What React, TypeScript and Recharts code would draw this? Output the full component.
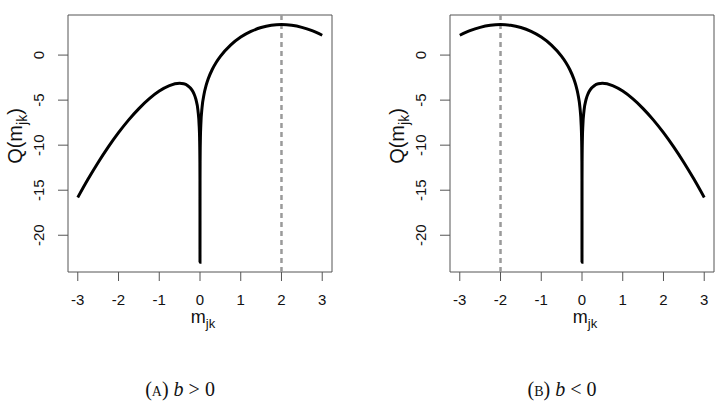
import React from "react";
import {
  LineChart,
  Line,
  XAxis,
  YAxis,
  ReferenceLine,
  ReferenceArea,
} from "recharts";

const mValues = [
  -3, -2.75, -2.5, -2.25, -2, -1.75, -1.5, -1.25, -1, -0.75, -0.5, -0.4, -0.3,
  -0.2, -0.15, -0.1, -0.05, -0.02, -0.01, -0.003, -0.001, 0, 0.001, 0.003, 0.01,
  0.02, 0.05, 0.1, 0.15, 0.2, 0.3, 0.4, 0.5, 0.75, 1, 1.25, 1.5, 1.75, 2, 2.25,
  2.5, 2.75, 3,
];

// panel (A), b > 0
const qPositiveB = [
  -15.8, -13.79, -11.92, -10.19, -8.61, -7.19, -5.94, -4.87, -4.0, -3.39, -3.14,
  -3.19, -3.4, -3.86, -4.27, -4.92, -6.14, -7.88, -9.24, -11.63, -13.82, -23.0,
  -13.81, -11.61, -9.18, -7.76, -5.84, -4.32, -3.37, -2.66, -1.6, -0.79, -0.14,
  1.11, 2.0, 2.63, 3.06, 3.31, 3.39, 3.31, 3.08, 2.71, 2.2,
];

// panel (B), b < 0
const qNegativeB = [
  2.2, 2.71, 3.08, 3.31, 3.39, 3.31, 3.06, 2.63, 2.0, 1.11, -0.14, -0.79, -1.6,
  -2.66, -3.37, -4.32, -5.84, -7.76, -9.18, -11.61, -13.81, -23.0, -13.82,
  -11.63, -9.24, -7.88, -6.14, -4.92, -4.27, -3.86, -3.4, -3.19, -3.14, -3.39,
  -4.0, -4.87, -5.94, -7.19, -8.61, -10.19, -11.92, -13.79, -15.8,
];

const xTicks = [-3, -2, -1, 0, 1, 2, 3];
const yTicks = [-20, -15, -10, -5, 0];

const X_DOMAIN = [-3.24, 3.24];
const Y_DOMAIN = [-24.08, 4.45];

const SANS = "'Liberation Sans', Arial, sans-serif";
const SERIF = "'Liberation Serif', 'DejaVu Serif', serif";
const AXIS = "#555";

function XTick({ x, y, payload }: any) {
  return (
    <text x={x} y={y} dy="0.71em" textAnchor="middle" fontSize={15} fontFamily={SANS} fill="#111">
      {payload.value}
    </text>
  );
}

function YTick({ x, y, payload }: any) {
  return (
    <text
      x={x}
      y={y}
      transform={`rotate(-90, ${x}, ${y})`}
      textAnchor="middle"
      fontSize={15}
      fontFamily={SANS}
      fill="#111"
    >
      {payload.value}
    </text>
  );
}

function Panel({
  q,
  refX,
  left,
  width,
  marginRight,
  letter,
  sign,
}: {
  q: number[];
  refX: number;
  left: number;
  width: number;
  marginRight: number;
  letter: string;
  sign: string;
}) {
  const data = mValues.map((m, i) => ({ m, q: q[i] }));
  const plotLeft = 68;
  const plotRight = width - marginRight;
  const centerX = (plotLeft + plotRight) / 2;
  return (
    <div style={{ position: "absolute", left, top: 0, width, height: 412 }}>
      <LineChart
        width={width}
        height={412}
        data={data}
        margin={{ top: 15, right: marginRight, bottom: 110, left: 0 }}
      >
        <XAxis
          type="number"
          dataKey="m"
          domain={X_DOMAIN}
          allowDataOverflow
          ticks={xTicks}
          axisLine={false}
          tickLine={{ stroke: AXIS }}
          tickSize={9}
          tickMargin={13}
          tick={<XTick />}
          height={30}
        />
        <YAxis
          type="number"
          domain={Y_DOMAIN}
          allowDataOverflow
          ticks={yTicks}
          axisLine={false}
          tickLine={{ stroke: AXIS }}
          tickSize={10}
          tickMargin={14}
          tick={<YTick />}
          width={plotLeft}
        />
        <ReferenceLine x={refX} stroke="#9a9a9a" strokeWidth={2.5} strokeDasharray="5 4" />
        <Line
          type="monotone"
          dataKey="q"
          stroke="#000"
          strokeWidth={3}
          dot={false}
          isAnimationActive={false}
        />
        <ReferenceArea
          x1={X_DOMAIN[0]}
          x2={X_DOMAIN[1]}
          y1={Y_DOMAIN[0]}
          y2={Y_DOMAIN[1]}
          fill="none"
          stroke={AXIS}
          strokeWidth={1}
        />
      </LineChart>
      <div
        style={{
          position: "absolute",
          left: 17,
          top: 136,
          transform: "translate(-50%, -50%) rotate(-90deg)",
          fontFamily: SANS,
          fontSize: 20,
          lineHeight: 1,
          whiteSpace: "nowrap",
          color: "#111",
        }}
      >
        Q(m<sub style={{ fontSize: 14 }}>jk</sub>)
      </div>
      <div
        style={{
          position: "absolute",
          left: centerX + 3,
          top: 308,
          transform: "translateX(-50%)",
          fontFamily: SANS,
          fontSize: 18,
          lineHeight: 1,
          whiteSpace: "nowrap",
          color: "#111",
        }}
      >
        m<sub style={{ fontSize: 13 }}>jk</sub>
      </div>
      <div
        style={{
          position: "absolute",
          left: centerX - 20,
          top: 379,
          transform: "translateX(-50%)",
          fontFamily: SERIF,
          fontSize: 20,
          lineHeight: 1,
          whiteSpace: "nowrap",
          color: "#111",
        }}
      >
        (<span style={{ fontSize: 14 }}>{letter}</span>) <i>b</i> {sign} 0
      </div>
    </div>
  );
}

export default function App() {
  return (
    <div
      style={{
        position: "absolute",
        left: 0,
        top: 0,
        width: 724,
        height: 412,
        overflow: "hidden",
        background: "#fff",
      }}
    >
      <Panel q={qPositiveB} refX={2} left={0} width={362} marginRight={30} letter="A" sign=">" />
      <Panel q={qNegativeB} refX={-2} left={382} width={342} marginRight={10} letter="B" sign="<" />
    </div>
  );
}
